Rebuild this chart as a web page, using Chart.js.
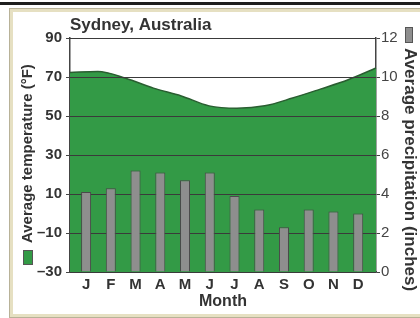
<!DOCTYPE html>
<html>
<head>
<meta charset="utf-8">
<script src="https://cdn.jsdelivr.net/npm/chart.js@4/dist/chart.umd.min.js"></script>
<style>
  html, body { margin: 0; padding: 0; background: #fff; }
  .wrap { position: relative; width: 420px; height: 318px; overflow: hidden; }
  .topline { position: absolute; left: 0; top: 2px; width: 420px; height: 3px; background: #1e1e1e; }
  .frame { position: absolute; left: 10px; top: 9px; width: 430px; height: 302px;
           border: 3px solid #e6e0c2; box-shadow: 0 0 0 1px #b8b298; }
  canvas { position: absolute; left: 0; top: 0; }
</style>
</head>
<body>
<div class="wrap">
  <div class="topline"></div>
  <div class="frame"></div>
  <canvas id="climate" width="420" height="318"></canvas>
</div>
<script>
const chartTitle = "Sydney, Australia";
const months = ["J", "F", "M", "A", "M", "J", "J", "A", "S", "O", "N", "D"];
// average temperature (°F), drawn edge to edge across the plot
const temperature = [72.3, 72.8, 69.4, 64.3, 60.3, 55.2, 54.0, 55.2, 59.2, 63.8, 68.6, 74.6];
// average precipitation (inches)
const precipitation = [4.1, 4.3, 5.2, 5.1, 4.7, 5.1, 3.9, 3.2, 2.3, 3.2, 3.1, 3.0];
const tempTickLabels = ["–30", "–10", "10", "30", "50", "70", "90"];
const precipTickLabels = ["0", "2", "4", "6", "8", "10", "12"];
const tempAxisTitle = "Average temperature (°F)";
const precipAxisTitle = "Average precipitation (inches)";
const xAxisTitle = "Month";

const GREEN = "#339a46";
const GRAY = "#8e8e8e";
const FONT = '"Liberation Sans", Arial, Helvetica, sans-serif';

Chart.defaults.font.family = FONT;
Chart.defaults.color = "#333";

// grid lines sit on top of the green area but under the bars
const gridOverArea = {
  id: "gridOverArea",
  afterDatasetDraw(chart, args) {
    if (args.meta.type !== "line") return;
    const { ctx, chartArea: a } = chart;
    const y = chart.scales.y;
    ctx.save();
    ctx.strokeStyle = "#3a3a3a";
    ctx.lineWidth = 1;
    y.ticks.forEach(t => {
      const py = Math.round(y.getPixelForValue(t.value)) + 0.5;
      ctx.beginPath();
      ctx.moveTo(a.left, py);
      ctx.lineTo(a.right, py);
      ctx.stroke();
    });
    ctx.restore();
  }
};

// chart title, rotated axis titles and their key swatches
const sideLabels = {
  id: "sideLabels",
  afterDraw(chart) {
    const { ctx, chartArea: a } = chart;
    ctx.save();
    ctx.fillStyle = "#333";
    ctx.font = "bold 17px " + FONT;
    ctx.textBaseline = "alphabetic";
    ctx.textAlign = "left";
    ctx.fillText(chartTitle, a.left, 30);

    ctx.font = "bold 15px " + FONT;
    ctx.save();
    ctx.translate(28, a.bottom - 29);
    ctx.rotate(-Math.PI / 2);
    ctx.textBaseline = "middle";
    ctx.fillText(tempAxisTitle, 0, 0);
    ctx.restore();

    ctx.save();
    ctx.font = "bold 17px " + FONT;
    ctx.translate(410, a.top + 10);
    ctx.rotate(Math.PI / 2);
    ctx.textBaseline = "middle";
    ctx.fillText(precipAxisTitle, 0, 0);
    ctx.restore();

    ctx.lineWidth = 1;
    ctx.strokeStyle = "#555";
    ctx.fillStyle = GREEN;
    ctx.fillRect(23.5, a.bottom - 21.5, 9, 14);
    ctx.strokeRect(23.5, a.bottom - 21.5, 9, 14);
    ctx.fillStyle = GRAY;
    ctx.fillRect(405.5, a.top - 10.5, 7, 15);
    ctx.strokeRect(405.5, a.top - 10.5, 7, 15);
    ctx.restore();
  }
};

new Chart(document.getElementById("climate"), {
  data: {
    datasets: [
      {
        type: "bar",
        data: precipitation.map((v, i) => ({ x: i, y: v })),
        xAxisID: "x",
        yAxisID: "y1",
        backgroundColor: GRAY,
        borderColor: "#4a4a4a",
        borderWidth: 1,
        borderSkipped: "bottom",
        grouped: false,
        categoryPercentage: 1,
        barPercentage: 0.41,
        maxBarThickness: 10,
        order: 1
      },
      {
        type: "line",
        data: temperature,
        xAxisID: "x2",
        yAxisID: "y",
        backgroundColor: GREEN,
        borderColor: "#2a5e31",
        borderWidth: 1.5,
        fill: "start",
        pointRadius: 0,
        cubicInterpolationMode: "monotone",
        order: 2
      }
    ]
  },
  options: {
    responsive: false,
    animation: false,
    layout: { padding: { top: 38, left: 0, right: 0, bottom: 0 } },
    plugins: {
      legend: { display: false },
      tooltip: { enabled: false }
    },
    scales: {
      x: {
        type: "linear",
        position: "bottom",
        offset: false,
        min: -0.65,
        max: 11.72,
        afterBuildTicks: s => { s.ticks = months.map((m, i) => ({ value: i })); },
        afterFit: s => { s.height = 46; },
        grid: { display: false, drawTicks: false, offset: false },
        border: { display: true, color: "#444", width: 1.5 },
        ticks: {
          autoSkip: false,
          maxRotation: 0,
          padding: 4,
          font: { size: 15, weight: "bold" },
          callback: v => months[v]
        },
        title: {
          display: true,
          text: xAxisTitle,
          font: { size: 16, weight: "bold" },
          padding: { top: 0, bottom: 7 }
        }
      },
      x2: {
        type: "category",
        labels: months,
        offset: false,
        display: false
      },
      y: {
        position: "left",
        min: -30,
        max: 90,
        afterFit: s => { s.width = 70; },
        grid: { display: true, drawOnChartArea: false, drawTicks: true, tickLength: 4, color: "#444" },
        border: { display: true, color: "#444", width: 1.5 },
        ticks: {
          stepSize: 20,
          padding: 4,
          font: { size: 15, weight: "bold" },
          callback: (v, i) => tempTickLabels[i]
        }
      },
      y1: {
        position: "right",
        min: 0,
        max: 12,
        afterFit: s => { s.width = 44; },
        grid: { display: true, drawOnChartArea: false, drawTicks: true, tickLength: 4, color: "#444" },
        border: { display: true, color: "#444", width: 1.5 },
        ticks: {
          stepSize: 2,
          padding: 1,
          color: "#444",
          font: { size: 15 },
          callback: (v, i) => precipTickLabels[i]
        }
      }
    }
  },
  plugins: [gridOverArea, sideLabels]
});
</script>
</body>
</html>
